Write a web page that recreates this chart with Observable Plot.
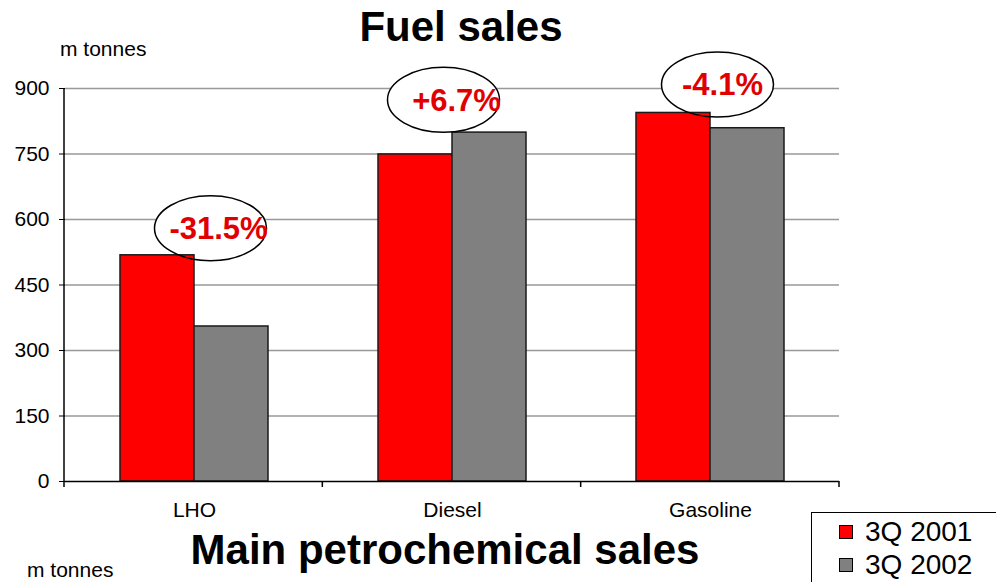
<!DOCTYPE html>
<html>
<head>
<meta charset="utf-8">
<script src="https://cdn.jsdelivr.net/npm/d3@7"></script>
<script src="https://cdn.jsdelivr.net/npm/@observablehq/plot@0.6"></script>
<style>
  body { margin: 0; background: #fff; }
  #chart {
    position: relative; width: 996px; height: 582px; overflow: hidden;
    font-family: "Liberation Sans", Arial, sans-serif; color: #000; background: #fff;
  }
  #chart > svg { position: absolute; left: 0; top: 0; }
  .txt { position: absolute; white-space: nowrap; line-height: 1; }
  .title { font-weight: bold; font-size: 42px; transform: translateX(-50%); }
  .unit { font-size: 21px; }
  #legend {
    position: absolute; left: 811px; top: 512px; width: 300px; height: 120px;
    border: 1.5px solid #000; box-sizing: border-box; background: #fff;
  }
  .sw { position: absolute; width: 12px; height: 12px; border: 1px solid #000; }
  .lg { position: absolute; font-size: 28px; line-height: 1; white-space: nowrap; }
</style>
</head>
<body>
<div id="chart"></div>
<script>
// Fuel sales by product, thousand tonnes
const categories = ["LHO", "Diesel", "Gasoline"];
const seriesNames = ["3Q 2001", "3Q 2002"];
const sales2001 = [518, 749, 844];
const sales2002 = [355, 799, 809];
const yTicks = [0, 150, 300, 450, 600, 750, 900];

// Year-on-year change callouts and the level (m tonnes) each one sits at
const changeLabels = ["-31.5%", "+6.7%", "-4.1%"];
const calloutLevels = [580, 874, 909];

const seriesColors = ["#ff0000", "#808080"];
const labelColor = "#e00000";

// Layout
const W = 996, H = 582;
const margin = {top: 88, right: 157, bottom: 101, left: 64};
const ellipseShift = [16, -9, 7];   // px from the group centre
const labelShift = [24, 4, 12];

const rows = categories.flatMap((c, i) => [
  {category: c, series: seriesNames[0], value: sales2001[i]},
  {category: c, series: seriesNames[1], value: sales2002[i]}
]);
const callouts = categories.map((c, i) => ({category: c, label: changeLabels[i], level: calloutLevels[i]}));

// Elliptical symbol for the callout rings (rx = r, ry = 0.58 r)
const ellipse = {
  draw(ctx, size) {
    const rx = Math.sqrt(size / Math.PI), ry = rx * 0.58, k = 0.5523;
    ctx.moveTo(rx, 0);
    ctx.bezierCurveTo(rx, ry * k, rx * k, ry, 0, ry);
    ctx.bezierCurveTo(-rx * k, ry, -rx, ry * k, -rx, 0);
    ctx.bezierCurveTo(-rx, -ry * k, -rx * k, -ry, 0, -ry);
    ctx.bezierCurveTo(rx * k, -ry, rx, -ry * k, rx, 0);
    ctx.closePath();
  }
};

const ringFills = callouts.map((d, i) => Plot.dot([d], {
  fx: "category", y: "level", r: 56, symbol: ellipse,
  fill: "white", stroke: "none", dx: ellipseShift[i]
}));
const ringStrokes = callouts.map((d, i) => Plot.dot([d], {
  fx: "category", y: "level", r: 56, symbol: ellipse,
  fill: "none", stroke: "#000", strokeWidth: 1.5, dx: ellipseShift[i]
}));
const ringLabels = callouts.map((d, i) => Plot.text([d], {
  fx: "category", y: "level", text: "label", dx: labelShift[i], dy: 1,
  fontSize: 31, fontWeight: "bold", fill: labelColor
}));

const plot = Plot.plot({
  width: W, height: H,
  marginTop: margin.top, marginRight: margin.right,
  marginBottom: margin.bottom, marginLeft: margin.left,
  style: {fontFamily: "'Liberation Sans', Arial, sans-serif", fontSize: "21px", color: "#000", background: "transparent"},
  fx: {domain: categories, padding: 0, label: null, axis: "bottom", tickSize: 0, tickPadding: 21},
  x: {domain: seriesNames, paddingInner: 0, paddingOuter: 0.738, axis: null},
  y: {domain: [0, 900], ticks: yTicks, tickSize: 6, tickPadding: 10, label: null, axis: "left"},
  color: {domain: seriesNames, range: seriesColors},
  marks: [
    Plot.ruleY(yTicks.slice(1), {stroke: "#999", strokeWidth: 1.5}),
    ...ringFills,
    Plot.barY(rows, {fx: "category", x: "series", y: "value", fill: "series", stroke: "#1a1a1a", strokeWidth: 1.5}),
    Plot.ruleY([0], {stroke: "#000", strokeWidth: 1.5}),
    ...ringStrokes,
    ...ringLabels
  ]
});

// Axis line on the left and group-boundary ticks along the baseline
const fxScale = plot.scale("fx"), yScale = plot.scale("y");
const [x0, x1] = fxScale.range;
const y0 = yScale.apply(0), yTop = yScale.apply(yTicks[yTicks.length - 1]);
const step = (x1 - x0) / categories.length;
const g = d3.select(plot).append("g").attr("stroke", "#000").attr("stroke-width", 1.5);
g.append("line").attr("x1", x0).attr("x2", x0).attr("y1", yTop).attr("y2", y0 + 6);
categories.forEach((c, i) => {
  const x = x0 + step * (i + 1);
  g.append("line").attr("x1", x).attr("x2", x).attr("y1", y0).attr("y2", y0 + 6);
});

const chart = document.getElementById("chart");
chart.appendChild(plot);

function addText(cls, text, left, top) {
  const el = document.createElement("div");
  el.className = "txt " + cls;
  el.textContent = text;
  el.style.left = left + "px";
  el.style.top = top + "px";
  chart.appendChild(el);
  return el;
}
addText("title", "Fuel sales", 461, 6);
addText("unit", "m tonnes", 60, 38);
addText("title", "Main petrochemical sales", 445, 529);
addText("unit", "m tonnes", 27, 559);

// Legend
const legend = document.createElement("div");
legend.id = "legend";
seriesNames.forEach((name, i) => {
  const sw = document.createElement("div");
  sw.className = "sw";
  sw.style.background = seriesColors[i];
  sw.style.left = "27px";
  sw.style.top = (12 + i * 33) + "px";
  legend.appendChild(sw);
  const lb = document.createElement("div");
  lb.className = "lg";
  lb.textContent = name;
  lb.style.left = "53px";
  lb.style.top = (5 + i * 33) + "px";
  legend.appendChild(lb);
});
chart.appendChild(legend);
</script>
</body>
</html>
